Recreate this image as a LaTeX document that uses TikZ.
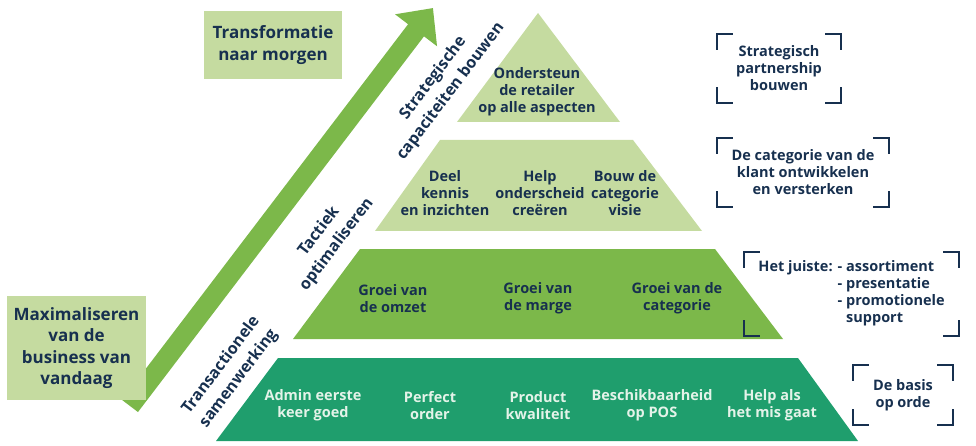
\documentclass[tikz,border=0pt]{standalone}
\usepackage{fontspec}
\setmainfont{Open Sans}
\usepackage{tikz}
\usetikzlibrary{arrows.meta}
\usetikzlibrary{positioning}

\definecolor{navy}{HTML}{17304F}
\definecolor{palegreen}{HTML}{C5DBA0}
\definecolor{midgreen}{HTML}{7CB84A}
\definecolor{basegreen}{HTML}{1F9E6D}
\definecolor{basetextcol}{HTML}{E4F3E9}

\tikzstyle{lvltext} = [align=center, text=navy, inner sep=0pt, font=\bfseries\fontsize{14.5}{17}\selectfont]
\tikzstyle{basetext} = [lvltext, text=basetextcol]
\tikzstyle{sidebox} = [rectangle, fill=palegreen, align=center, text=navy, inner sep=0pt, font=\bfseries\fontsize{17}{21.5}\selectfont]
\tikzstyle{steplabel} = [align=center, text=navy, rotate=53, inner sep=0pt, font=\bfseries\fontsize{16}{22}\selectfont]
\tikzstyle{goalbox} = [rectangle, align=center, text=navy, inner sep=0pt, font=\bfseries\fontsize{14.5}{17}\selectfont]
\tikzstyle{corner} = [draw=navy, line width=2pt]
\tikzstyle{bigarrow} = [draw=midgreen, line width=20pt, -{Triangle[length=28pt, width=51pt]}]

\begin{document}
\begin{tikzpicture}[x=1pt, y=-1pt]

  \useasboundingbox (0,0) rectangle (976,446);

  % We start by drawing the four layers of the pyramid
  \fill[palegreen] (538,13) -- (620,122) -- (457,122) -- cycle;
  \fill[palegreen] (440,140) -- (633,140) -- (702,231) -- (375,231) -- cycle;
  \fill[midgreen] (360,249) -- (715,249) -- (783,339) -- (293,339) -- cycle;
  \fill[basegreen] (278,358) -- (798,358) -- (858,441) -- (216,441) -- cycle;

  % the big arrow on the left
  \coordinate (tail) at (130,406);
  \coordinate (tip) at (433,8);
  \draw [bigarrow] (tail) -- (tip);

  % boxes at both ends of the arrow
  \node (today) [sidebox, minimum width=139pt, minimum height=104pt] at (76.5,348) {Maximaliseren\\van de\\business van\\vandaag};
  \node (tomorrow) [sidebox, minimum width=138pt, minimum height=68pt] at (273,45) {Transformatie\\naar morgen};

  % labels along the arrow
  \node (strategic) [steplabel] at (442,85) {Strategische\\capaciteiten bouwen};
  \node (tactic) [steplabel] at (328,238) {Tactiek\\optimaliseren};
  \node (transact) [steplabel] at (230,372) {Transactionele\\samenwerking};

  % texts in the pyramid
  \node (support) [lvltext] at (537,92) {Ondersteun\\de retailer\\op alle aspecten};

  \node (share) [lvltext] at (445,193) {Deel\\kennis\\en inzichten};
  \node (distinct) [lvltext] at (540,193) {Help\\onderscheid\\creëren};
  \node (vision) [lvltext] at (625,193) {Bouw de\\categorie\\visie};

  \node (turnover) [lvltext] at (393,298.5) {Groei van\\de omzet};
  \node (margin) [lvltext] at (538,298.5) {Groei van\\de marge};
  \node (catgrowth) [lvltext] at (677,298.5) {Groei van de\\categorie};

  \node (admin) [basetext] at (313,405.5) {Admin eerste\\keer goed};
  \node (order) [basetext] at (430,405.5) {Perfect\\order};
  \node (quality) [basetext] at (538,405.5) {Product\\kwaliteit};
  \node (pos) [basetext] at (652,405.5) {Beschikbaarheid\\op POS};
  \node (help) [basetext] at (772,405.5) {Help als\\het mis gaat};

  % goals on the right
  \node (partner) [goalbox, minimum width=124pt, minimum height=69pt] at (779,68.5) {Strategisch\\partnership\\bouwen};
  \node (develop) [goalbox, minimum width=172pt, minimum height=69pt] at (803,172.5) {De categorie van de\\klant ontwikkelen\\en versterken};
  \node (right) [goalbox, minimum width=215pt, minimum height=84pt] at (851.5,294) {\begin{tabular}{@{}l@{ }l@{}}Het juiste: & - assortiment\\ & - presentatie\\ & - promotionele\\ & \phantom{- }support\end{tabular}};
  \node (basis) [goalbox, minimum width=100pt, minimum height=60pt] at (903,395) {De basis\\op orde};

  % corner marks round the goals
  \foreach \g in {partner,develop,right,basis} {
    \draw [corner] ([yshift=-16pt]\g.north west) -- (\g.north west) -- ([xshift=16pt]\g.north west);
    \draw [corner] ([yshift=-16pt]\g.north east) -- (\g.north east) -- ([xshift=-16pt]\g.north east);
    \draw [corner] ([yshift=16pt]\g.south west) -- (\g.south west) -- ([xshift=16pt]\g.south west);
    \draw [corner] ([yshift=16pt]\g.south east) -- (\g.south east) -- ([xshift=-16pt]\g.south east);
  }

\end{tikzpicture}
\end{document}
